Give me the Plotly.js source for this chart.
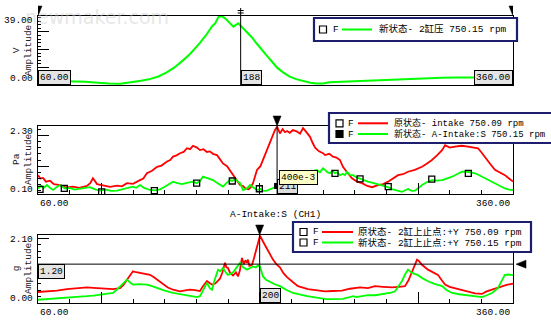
<!DOCTYPE html>
<html><head><meta charset="utf-8">
<script src="https://cdn.plot.ly/plotly-3.0.1.min.js"></script>
<style>html,body{margin:0;padding:0;background:#fff}#chart{width:551px;height:325px}</style>
</head><body><div id="chart"></div><script>
// ---------------- DATA ----------------
const xRange = [60, 360];
const xEndLabels = ['60.00', '360.00'];

// Panel 1 : 新状态- 2缸压
const p1Name = '新状态- 2缸压 750.15 rpm';
const p1Unit = 'V';
const p1YRange = [0, 39];
const p1YLabels = ['0.00', '39.00'];
const p1Cursor = 188;
const p1X = [60,70,80,90,100,105,112,120,125,130,136,141,146,151,156,162,166,170,172,174,176,178,180,183.4,186.5,189,192,195,198,201,204.6,208,211,215,219,223,227,232,236,240,244,252,260,272,285,294,305,315,325,338,350,360];
const p1Y = [2.6,2.4,2.2,1.8,1.2,0.8,0.7,1.6,2.4,3.2,4.8,7,9.8,13.5,17.5,23.5,28,33.2,35,38.5,38.8,37.8,36,33,34.9,32.5,30.1,27,23.6,20.2,16.5,13,9.8,7,4.7,3.3,2.3,1.3,0.8,0.9,1.6,1.9,2.3,2.8,3.3,3.6,3.9,4.1,4.2,4.3,4.3,4.3];

// Panel 2 : intake
const p2Names = ['原状态- intake 750.09 rpm', '新状态- A-Intake:S 750.15 rpm'];
const p2Unit = 'Pa';
const p2Title = 'A-Intake:S (CH1)';
const p2YRange = [0.1, 2.3];
const p2YLabels = ['0.10', '2.30'];
const p2Cursor = 211;
const p2CursorValue = '400e-3';
const p2Red = [[60,0.71],[61.5,0.6],[63.2,0.62],[65,0.5],[67.6,0.53],[70,0.42],[73.9,0.39],[78,0.31],[82.1,0.34],[86,0.3],[90.9,0.36],[93,0.45],[94.7,0.61],[97.3,0.42],[101,0.38],[105.5,0.33],[110,0.37],[113,0.35],[116.2,0.45],[120,0.43],[124.4,0.55],[126.5,0.6],[128.8,0.77],[132,0.85],[135.2,0.98],[138,1.02],[141.5,1.15],[143.5,1.2],[145.3,1.31],[147.5,1.35],[149.7,1.42],[152,1.46],[154.1,1.58],[156,1.55],[157.9,1.66],[160.4,1.6],[162.3,1.52],[164.5,1.55],[166.7,1.46],[168.5,1.48],[170.5,1.4],[173,1.36],[175,1.22],[176.8,1.09],[179.4,1.0],[181.3,0.85],[183.2,0.71],[185.5,0.52],[187.6,0.39],[189.5,0.36],[191,0.28],[193,0.25],[194.5,0.32],[195.8,0.45],[198.3,0.88],[200.5,1.0],[202.1,1.2],[204.6,1.55],[206,1.7],[207.8,1.9],[209.7,2.17],[211,2.28],[212.8,2.06],[214.5,2.2],[216,2.1],[217.3,2.14],[219,2.08],[221,2.17],[223.6,2.12],[225.5,2.05],[227.4,2.23],[229.5,2.1],[231.8,1.95],[233.5,1.75],[235,1.6],[237.5,1.48],[240,1.42],[241.3,1.36],[244,1.4],[246.3,1.31],[248.5,1.28],[250.7,1.2],[252.6,0.98],[255,0.82],[257.1,0.66],[258.3,0.61],[261.5,0.5],[264.6,0.45],[268,0.36],[271,0.32],[274.7,0.39],[278,0.42],[281.1,0.5],[284,0.6],[287.4,0.71],[290.5,0.74],[293.7,0.82],[298,0.88],[302.5,0.98],[305.5,1.08],[308.8,1.2],[312,1.35],[315.2,1.52],[317.1,1.68],[320,1.6],[323.4,1.63],[327.5,1.66],[331.6,1.63],[335,1.6],[337.9,1.58],[340,1.45],[342.3,1.31],[345.5,1.08],[348.6,0.88],[352,0.8],[354.9,0.71],[357.5,0.6],[360,0.5]];
const p2Green = [[60,0.28],[62,0.36],[63.5,0.3],[65.7,0.39],[67.5,0.3],[69.5,0.23],[72,0.33],[73.9,0.39],[77.1,0.28],[80,0.3],[83,0.24],[86.5,0.26],[90,0.3],[92.8,0.32],[96,0.25],[99.2,0.21],[103,0.24],[106,0.2],[109.9,0.21],[113,0.25],[116,0.27],[120,0.34],[122,0.3],[124.4,0.39],[127,0.3],[130.7,0.23],[134,0.22],[137.1,0.25],[139.5,0.32],[141.5,0.39],[143.5,0.44],[145.3,0.5],[148,0.45],[151,0.42],[154,0.46],[157.9,0.5],[160.2,0.45],[162.3,0.52],[164.2,0.66],[166.5,0.62],[168.5,0.58],[170.5,0.55],[172.5,0.48],[174.9,0.39],[176.8,0.34],[179,0.45],[181.3,0.55],[182.5,0.52],[184.5,0.58],[186.3,0.5],[187.6,0.45],[189.5,0.23],[192,0.28],[193.9,0.39],[196,0.3],[198.3,0.23],[200.5,0.26],[202.5,0.2],[204.6,0.21],[206.5,0.25],[208.4,0.28],[211.6,0.36],[214,0.48],[216,0.6],[220,0.7],[224,0.75],[228,0.78],[232,0.84],[236.2,0.88],[238,0.8],[240,0.93],[241.3,0.88],[243,0.8],[244.4,0.77],[246,0.85],[247.6,0.77],[249,0.8],[250.7,0.71],[252.5,0.75],[253.9,0.71],[255.2,0.82],[257,0.72],[259,0.71],[261,0.64],[263.4,0.59],[266,0.55],[268.4,0.5],[271.5,0.46],[274.7,0.42],[278,0.36],[281.1,0.32],[283.5,0.26],[285.5,0.23],[287.5,0.2],[289.9,0.17],[292,0.22],[293.7,0.26],[296,0.2],[298.1,0.21],[300.5,0.3],[302.5,0.39],[305.5,0.48],[308.8,0.55],[312,0.53],[315.2,0.55],[318,0.6],[321.5,0.66],[324.5,0.74],[327.8,0.82],[331.6,0.82],[334,0.8],[336,0.77],[339,0.7],[342.3,0.61],[345.5,0.52],[348.6,0.45],[351.5,0.36],[354.9,0.28],[357.5,0.24],[360,0.23]];
const p2MarkX = [61.3,76.6,100.2,133.5,160.2,182.7,199.8,247.6,263.4,281.2,308.7,331.8];
const p2MarkY = [0.25,0.28,0.17,0.21,0.45,0.52,0.27,0.77,0.59,0.34,0.58,0.77];
const p2CursorMarkY = 0.36;

// Panel 3 : 2缸上止点:+Y
const p3Names = ['原状态- 2缸上止点:+Y 750.09 rpm', '新状态- 2缸上止点:+Y 750.15 rpm'];
const p3Unit = 'g';
const p3YRange = [0, 2.1];
const p3YLabels = ['0.00', '2.10'];
const p3Cursor = 200;
const p3HCursor = 1.2;
const p3HCursorLabel = '1.20';
const p3Red = [[60,0.34],[63,0.35],[67.6,0.36],[72,0.38],[78.3,0.43],[84,0.46],[90.9,0.48],[95,0.47],[99.2,0.46],[103,0.44],[107.4,0.43],[111.8,0.46],[114,0.56],[116.2,0.72],[118,0.85],[120,0.98],[122,0.95],[124.4,0.93],[127.5,0.92],[130.7,0.87],[133,0.8],[135.2,0.72],[137,0.64],[139,0.57],[142,0.48],[145.3,0.41],[149.7,0.36],[153,0.39],[156,0.41],[159,0.4],[162.3,0.37],[164.2,0.52],[166.7,0.68],[168.3,0.62],[169.9,0.57],[172,0.6],[174.9,0.75],[176.5,0.95],[178.1,1.24],[179,1.1],[180,1.08],[181.3,0.93],[183.2,0.85],[185,0.95],[186.3,0.82],[187.5,1.0],[188.8,1.39],[190,1.2],[191,1.32],[192,1.24],[192.6,1.34],[193.5,1.15],[195.2,1.18],[196.5,1.4],[198.3,1.7],[200.2,2.08],[202.1,1.9],[205.3,1.6],[208.4,1.34],[210.5,1.2],[212.8,1.1],[215,0.92],[217.3,0.8],[221.1,0.64],[224.2,0.52],[230.5,0.43],[236,0.39],[241.3,0.36],[246,0.37],[252,0.38],[257.1,0.44],[263.4,0.48],[268.4,0.46],[272.8,0.52],[278,0.5],[283.6,0.48],[288,0.5],[291.8,0.52],[294,0.7],[296.2,0.98],[298,1.2],[299.4,1.34],[300.5,1.3],[302.5,1.18],[306.3,1.03],[309,0.97],[312.6,0.87],[315,0.7],[317.1,0.57],[320,0.5],[323.4,0.46],[327,0.4],[331.6,0.36],[336,0.3],[340.4,0.28],[343,0.35],[346.7,0.41],[350,0.46],[353.1,0.52],[356,0.56],[360,0.6]];
const p3Green = [[60,0.1],[66,0.12],[72,0.14],[78.3,0.15],[84,0.18],[90.9,0.21],[95,0.23],[99.2,0.26],[103,0.27],[107.4,0.31],[109.5,0.4],[111.8,0.52],[114,0.62],[116.2,0.72],[118,0.64],[120,0.57],[124,0.58],[128.8,0.57],[132,0.52],[135.2,0.46],[140,0.38],[145.3,0.31],[150,0.27],[154.1,0.24],[157,0.21],[160.4,0.18],[162.3,0.21],[164.2,0.41],[166.7,0.62],[168.6,0.45],[169.9,0.41],[171.5,0.7],[173.7,1.03],[175,0.98],[176.8,1.08],[178.5,0.95],[180,0.87],[181.5,0.9],[183.2,0.95],[185.5,1.1],[187.6,1.24],[189.5,1.1],[192,1.03],[194,1.08],[195.8,1.13],[197.5,1.1],[199,1.16],[200.2,1.13],[202.1,0.82],[204,0.72],[206.5,0.65],[209.5,0.58],[212.8,0.52],[217,0.4],[221.1,0.31],[225.5,0.25],[229.9,0.21],[234,0.18],[238.1,0.15],[242,0.12],[246.3,0.12],[250,0.13],[252.6,0.13],[256,0.17],[259,0.21],[261,0.18],[263.4,0.2],[266,0.22],[268.4,0.24],[273,0.24],[279.2,0.28],[283,0.32],[285.5,0.36],[287.5,0.5],[289.9,0.68],[291.8,0.88],[293.7,1.03],[296.2,0.93],[300,0.86],[303,0.76],[306.3,0.67],[310,0.6],[315.2,0.52],[318,0.4],[321.5,0.31],[326,0.27],[331.6,0.24],[336,0.21],[340.4,0.18],[343.5,0.24],[346.7,0.31],[348.5,0.38],[350.5,0.46],[352.5,0.65],[354.9,0.87],[357,0.88],[360,0.86]];

const axisWord = 'Amplitude';
const legendPrefix = 'F';

// ---------------- LAYOUT HELPERS ----------------
const W = 551, H = 325;
const X = px => px / W;
const Y = py => 1 - py / H;
const RED = '#ff0000', GREEN = '#00ff00', NAVY = '#1e1e6e';
const FONT = 'Liberation Mono, "Noto Sans CJK SC", monospace';
const f = (size, color) => ({family: FONT, size: size || 9.5, color: color || '#000'});

const traces = [
  {x: p1X, y: p1Y, xaxis: 'x', yaxis: 'y', mode: 'lines', name: p1Name, line: {color: GREEN, width: 2}},
  {x: p2Red.map(p => p[0]), y: p2Red.map(p => p[1]), xaxis: 'x2', yaxis: 'y2', mode: 'lines', name: p2Names[0], line: {color: RED, width: 1.8}},
  {x: p2Green.map(p => p[0]), y: p2Green.map(p => p[1]), xaxis: 'x2', yaxis: 'y2', mode: 'lines', name: p2Names[1], line: {color: GREEN, width: 1.8}},
  {x: p2MarkX, y: p2MarkY, xaxis: 'x2', yaxis: 'y2', mode: 'markers', marker: {symbol: 'square-open', size: 6, color: '#000', line: {width: 1.3}}},
  {x: [p2Cursor], y: [p2CursorMarkY], xaxis: 'x2', yaxis: 'y2', mode: 'markers', marker: {symbol: 'square', size: 6, color: '#000'}},
  {x: p3Red.map(p => p[0]), y: p3Red.map(p => p[1]), xaxis: 'x3', yaxis: 'y3', mode: 'lines', name: p3Names[0], line: {color: RED, width: 1.8}},
  {x: p3Green.map(p => p[0]), y: p3Green.map(p => p[1]), xaxis: 'x3', yaxis: 'y3', mode: 'lines', name: p3Names[1], line: {color: GREEN, width: 1.8}}
];

const xBase = {domain: [X(38), X(513)], range: xRange, showgrid: false, zeroline: false, showline: true, mirror: true,
  linecolor: '#000', linewidth: 1, showticklabels: false, fixedrange: true};
const xTicked = Object.assign({}, xBase, {ticks: 'inside', tickmode: 'linear', tick0: 0, dtick: 100, ticklen: 11, tickcolor: '#000', tickwidth: 1,
  minor: {ticks: 'inside', tickmode: 'linear', tick0: 0, dtick: 20, ticklen: 4, tickcolor: '#000', tickwidth: 1}});
function yAx(dom, range, dtick, mdtick) {
  return {domain: dom, range: range, showgrid: false, zeroline: false, showline: true, mirror: true, linecolor: '#000', linewidth: 1,
    showticklabels: false, fixedrange: true, ticks: 'inside', tickmode: 'linear', tick0: 0, dtick: dtick, ticklen: 11, tickcolor: '#000', tickwidth: 1,
    minor: {ticks: 'inside', tickmode: 'linear', tick0: 0, dtick: mdtick, ticklen: 3, tickcolor: '#000', tickwidth: 1}};
}

const shapes = [];
const annotations = [];
const txt = (text, x, y, o) => annotations.push(Object.assign({text: text, x: x, y: y, xref: 'paper', yref: 'paper', showarrow: false,
  xanchor: 'left', yanchor: 'middle', font: f()}, o || {}));

// down-pointing cursor triangle (x in data units, pixel width)
function downTri(xref, xval, topPx, tipPx) {
  shapes.push({type: 'path', xref: xref, xsizemode: 'pixel', xanchor: xval, yref: 'paper',
    path: `M-4,${Y(topPx)} L4,${Y(topPx)} L0,${Y(tipPx)} Z`, fillcolor: '#000', line: {color: '#000', width: 0.5}});
}
function vCursor(xref, yref, xval) {
  shapes.push({type: 'line', xref: xref, yref: yref + ' domain', x0: xval, x1: xval, y0: 0, y1: 1, line: {color: '#000', width: 1}});
}
const boxStyle = {bgcolor: '#e4e4e4', bordercolor: '#000', borderwidth: 1, borderpad: 1};

// watermark (drawn first so labels sit on top)
txt('newmaker.com', X(97), Y(17), {xanchor: 'center', font: {family: 'DejaVu Sans', size: 19, color: 'rgba(200,200,200,0.45)'}});

// ---------- Panel 1 ----------
vCursor('x', 'y', p1Cursor);
downTri('x', xRange[0], 6, 16);
downTri('x', xRange[1], 6, 16);
shapes.push({type: 'path', xref: 'x', xsizemode: 'pixel', xanchor: p1Cursor, yref: 'paper',
  path: `M0,${Y(8)} L0,${Y(16)} M-3,${Y(10.5)} L3,${Y(10.5)} M-3,${Y(13)} L3,${Y(13)}`, line: {color: '#000', width: 1}});
annotations.push({text: p1YLabels[0], xref: 'paper', x: X(35), xanchor: 'right', yref: 'y', y: p1YRange[0], yshift: 6, yanchor: 'middle', showarrow: false, font: f()});
annotations.push({text: p1YLabels[1], xref: 'paper', x: X(35), xanchor: 'right', yref: 'y', y: p1YRange[1], yshift: -5, yanchor: 'middle', showarrow: false, font: f()});
annotations.push(Object.assign({text: xEndLabels[0], xref: 'x', x: xRange[0], xanchor: 'left', yref: 'y domain', y: 0, yanchor: 'bottom', showarrow: false, font: f()}, boxStyle));
annotations.push(Object.assign({text: String(p1Cursor), xref: 'x', x: p1Cursor, xanchor: 'left', yref: 'y domain', y: 0, yanchor: 'bottom', showarrow: false, font: f()}, boxStyle));
annotations.push(Object.assign({text: xEndLabels[1], xref: 'x', x: xRange[1], xanchor: 'right', yref: 'y domain', y: 0, yanchor: 'bottom', showarrow: false, font: f()}, boxStyle));
txt(p1Unit + '<br>' + axisWord, X(22), Y(50), {xanchor: 'center', textangle: -90, font: f(9.5, '#222')});

// ---------- Panel 2 ----------
vCursor('x2', 'y2', p2Cursor);
downTri('x2', p2Cursor, 116, 126);
annotations.push({text: p2YLabels[0], xref: 'paper', x: X(35), xanchor: 'right', yref: 'y2', y: p2YRange[0], yshift: 5, yanchor: 'middle', showarrow: false, font: f()});
annotations.push({text: p2YLabels[1], xref: 'paper', x: X(35), xanchor: 'right', yref: 'y2', y: p2YRange[1], yshift: -5, yanchor: 'middle', showarrow: false, font: f()});
annotations.push({text: xEndLabels[0], xref: 'x2', x: xRange[0], xanchor: 'left', yref: 'paper', y: Y(203), yanchor: 'middle', showarrow: false, font: f()});
annotations.push({text: xEndLabels[1], xref: 'x2', x: xRange[1], xanchor: 'right', yref: 'paper', y: Y(203), yanchor: 'middle', showarrow: false, font: f()});
annotations.push(Object.assign({text: String(p2Cursor), xref: 'x2', x: p2Cursor, xanchor: 'left', yref: 'y2 domain', y: 0, yanchor: 'bottom', showarrow: false, font: f()}, boxStyle, {bgcolor: '#dcdcdc'}));
annotations.push({text: p2CursorValue, xref: 'x2', x: p2Cursor, xshift: 2, xanchor: 'left', yref: 'y2', y: 0.4, yanchor: 'bottom', showarrow: false,
  font: f(), bgcolor: '#ffffc8', bordercolor: '#000', borderwidth: 1, borderpad: 1});
txt(p2Title, X(275), Y(214), {xanchor: 'center'});
txt(p2Unit + '<br>' + axisWord, X(22), Y(159), {xanchor: 'center', textangle: -90, font: f(9.5, '#222')});

// ---------- Panel 3 ----------
vCursor('x3', 'y3', p3Cursor);
shapes.push({type: 'line', xref: 'x3 domain', yref: 'y3', x0: 0, x1: 1, y0: p3HCursor, y1: p3HCursor, line: {color: '#000', width: 1}});
downTri('x3', p3Cursor, 225, 235);
shapes.push({type: 'path', xref: 'x3 domain', xsizemode: 'pixel', xanchor: 1, yref: 'y3', ysizemode: 'pixel', yanchor: p3HCursor,
  path: 'M3,0 L13,4 L13,-4 Z', fillcolor: '#000', line: {color: '#000', width: 0.5}});
annotations.push({text: p3YLabels[0], xref: 'paper', x: X(35), xanchor: 'right', yref: 'y3', y: p3YRange[0], yshift: 5, yanchor: 'middle', showarrow: false, font: f()});
annotations.push({text: p3YLabels[1], xref: 'paper', x: X(35), xanchor: 'right', yref: 'y3', y: p3YRange[1], yshift: -4.5, yanchor: 'middle', showarrow: false, font: f()});
annotations.push({text: xEndLabels[0], xref: 'x3', x: xRange[0], xanchor: 'left', yref: 'paper', y: Y(312.5), yanchor: 'middle', showarrow: false, font: f()});
annotations.push({text: xEndLabels[1], xref: 'x3', x: xRange[1], xanchor: 'right', yref: 'paper', y: Y(312.5), yanchor: 'middle', showarrow: false, font: f()});
annotations.push(Object.assign({text: String(p3Cursor), xref: 'x3', x: p3Cursor, xanchor: 'left', yref: 'y3 domain', y: 0, yanchor: 'bottom', showarrow: false, font: f()}, boxStyle));
annotations.push(Object.assign({text: p3HCursorLabel, xref: 'x3 domain', x: 0, xanchor: 'left', yref: 'y3', y: p3HCursor, yanchor: 'top', showarrow: false, font: f()}, boxStyle));
txt(p3Unit + '<br>' + axisWord, X(22), Y(268), {xanchor: 'center', textangle: -90, font: f(9.5, '#222')});

// ---------- Legends (custom boxes) ----------
function legend(box, sq, fx, ln, tx, size, rows) {
  shapes.push({type: 'rect', xref: 'paper', yref: 'paper', x0: X(box[0]), x1: X(box[2]), y0: Y(box[3]), y1: Y(box[1]),
    fillcolor: '#fff', line: {color: NAVY, width: 2.2}});
  rows.forEach(r => {
    shapes.push({type: 'rect', xref: 'paper', yref: 'paper', x0: X(sq), x1: X(sq + 7), y0: Y(r.y + 3.5), y1: Y(r.y - 3.5),
      fillcolor: r.filled ? '#000' : '#fff', line: {color: '#000', width: 1.2}});
    txt(legendPrefix, X(fx), Y(r.y));
    shapes.push({type: 'line', xref: 'paper', yref: 'paper', x0: X(ln[0]), x1: X(ln[1]), y0: Y(r.y), y1: Y(r.y), line: {color: r.color, width: 2}});
    txt(r.label, X(tx), Y(r.y), {font: f(size)});
  });
}
legend([314, 18, 517, 41], 319.5, 331, [342, 372], 377, 9.5, [{y: 29.5, color: GREEN, label: p1Name}]);
legend([329, 113, 556, 143], 336, 346, [358, 388], 392, 9, [{y: 123.3, color: RED, label: p2Names[0]}, {y: 134, color: GREEN, label: p2Names[1], filled: true}]);
legend([293, 222, 531, 252], 300, 311, [322, 353], 356, 9.5, [{y: 232, color: RED, label: p3Names[0]}, {y: 242.5, color: GREEN, label: p3Names[1]}]);

const layout = {
  width: W, height: H, margin: {l: 0, r: 0, t: 0, b: 0}, paper_bgcolor: '#fff', plot_bgcolor: '#fff', showlegend: false,
  xaxis: Object.assign({}, xBase, {anchor: 'y', ticks: ''}),
  xaxis2: Object.assign({}, xTicked, {anchor: 'y2'}),
  xaxis3: Object.assign({}, xTicked, {anchor: 'y3'}),
  yaxis: Object.assign(yAx([Y(85), Y(16)], p1YRange, 10, 2), {anchor: 'x'}),
  yaxis2: Object.assign(yAx([Y(194), Y(126)], p2YRange, 1, 0.2), {anchor: 'x2'}),
  yaxis3: Object.assign(yAx([Y(303), Y(235)], p3YRange, 1, 0.2), {anchor: 'x3'}),
  shapes: shapes, annotations: annotations
};
Plotly.newPlot('chart', traces, layout, {staticPlot: true, displayModeBar: false});
</script></body></html>
